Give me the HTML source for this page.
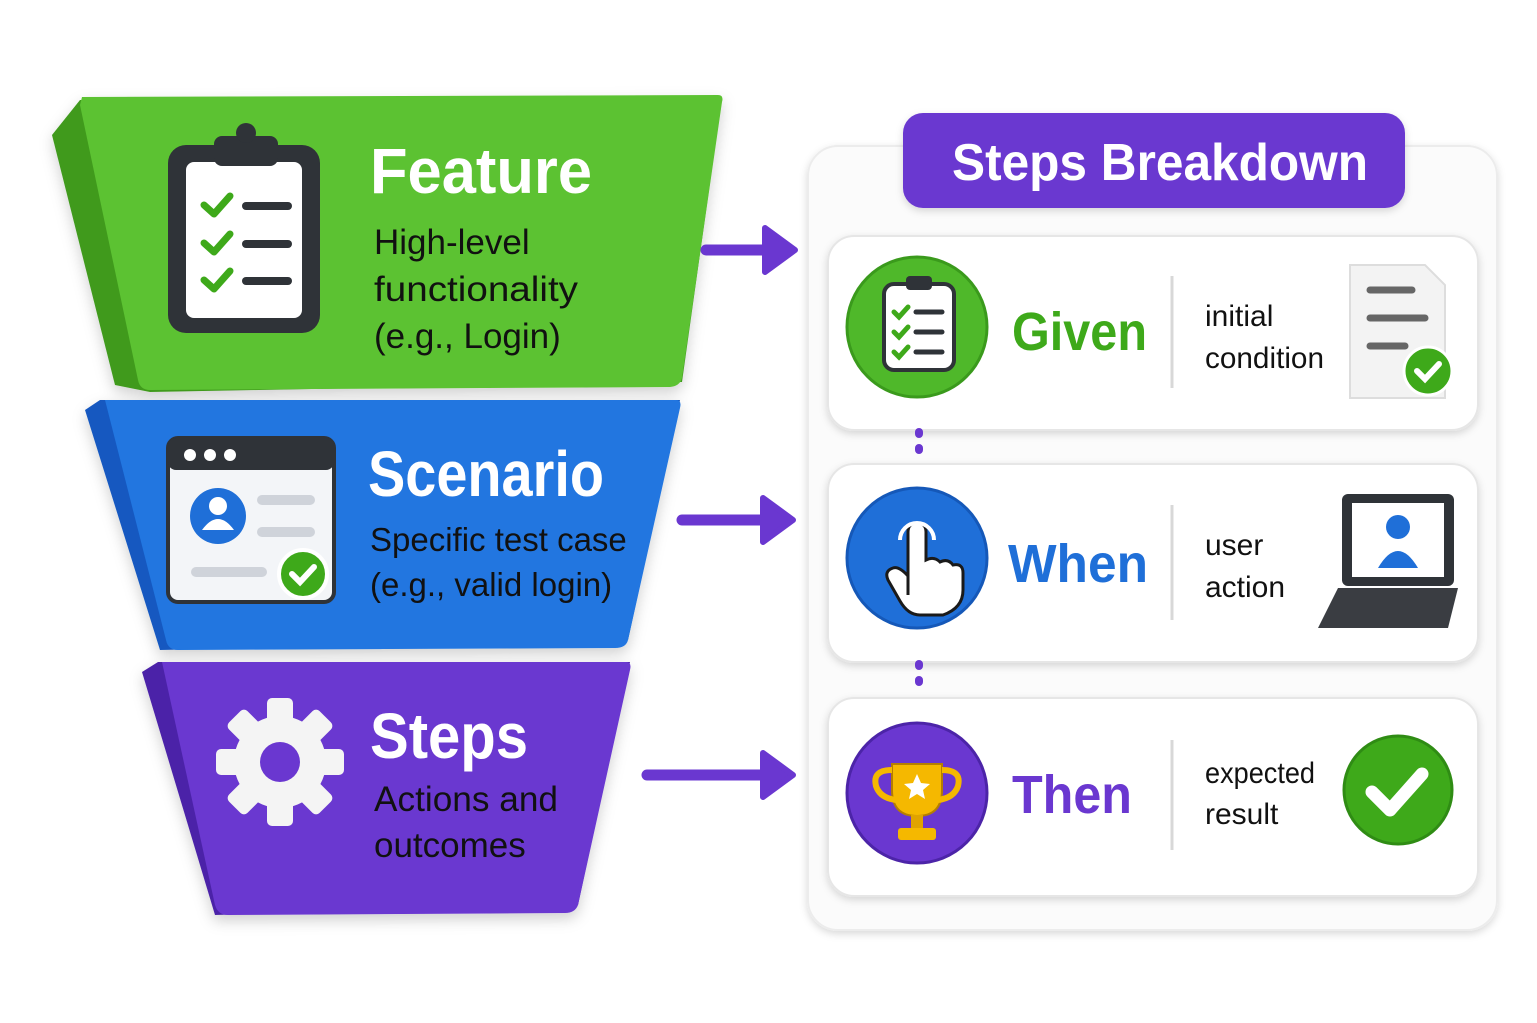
<!DOCTYPE html>
<html><head><meta charset="utf-8"><style>
html,body{margin:0;padding:0;background:#fff;}
svg{display:block}
text{font-family:"Liberation Sans",sans-serif;}
</style></head><body>
<svg width="1537" height="1023" viewBox="0 0 1537 1023" xmlns="http://www.w3.org/2000/svg">
<defs>
<filter id="sh" x="-10%" y="-10%" width="120%" height="130%"><feDropShadow dx="0" dy="6" stdDeviation="7" flood-color="#000" flood-opacity="0.18"/></filter>
<filter id="sh2" x="-10%" y="-10%" width="120%" height="130%"><feDropShadow dx="0" dy="3" stdDeviation="4" flood-color="#000" flood-opacity="0.15"/></filter>
</defs>

<!-- Left funnel -->
<g filter="url(#sh)">
<path d="M52,135 L80,100 L722,97 L682,382 L150,392 L115,385 Z" fill="#3f9a1e"/>
<path d="M82,97 L718,95 Q724,95 722,102 L682,378 Q680,386 670,387 L150,390 Q140,390 138,380 L80,105 Z" fill="#5cc232"/>
<path d="M85,410 L100,400 L680,400 L628,640 L160,650 Z" fill="#1559c0"/>
<path d="M105,400 L676,400 Q682,400 680,408 L628,640 Q626,648 615,648 L178,650 Q168,650 166,640 Z" fill="#2076e0"/>
<path d="M142,672 L158,662 L630,662 L578,905 L215,915 Z" fill="#4c24a8"/>
<path d="M162,662 L626,662 Q632,662 630,670 L578,905 Q575,913 565,913 L228,915 Q218,915 215,905 Z" fill="#6a37d0"/>
</g>

<!-- clipboard icon -->
<rect x="168" y="145" width="152" height="188" rx="18" fill="#2f3338"/>
<rect x="186" y="162" width="116" height="156" rx="8" fill="#fff"/>
<rect x="214" y="136" width="64" height="30" rx="8" fill="#2f3338"/>
<circle cx="246" cy="133" r="10" fill="#2f3338"/>
<g stroke="#3ea91a" stroke-width="7" fill="none" stroke-linecap="round" stroke-linejoin="round">
<path d="M204,205 l10,9 l16,-18"/><path d="M204,243 l10,9 l16,-18"/><path d="M204,280 l10,9 l16,-18"/></g>
<g stroke="#2f3338" stroke-width="8" stroke-linecap="round"><path d="M246,206 H288"/><path d="M246,244 H288"/><path d="M246,281 H288"/></g>
<text x="370" y="193" font-size="64" font-weight="bold" fill="#fff" textLength="222" lengthAdjust="spacingAndGlyphs">Feature</text>
<g font-size="35" fill="#111"><text x="374" y="254">High-level</text><text x="374" y="301" textLength="204" lengthAdjust="spacingAndGlyphs">functionality</text><text x="374" y="348">(e.g., Login)</text></g>

<!-- browser icon -->
<rect x="168" y="438" width="166" height="164" rx="10" fill="#f3f5f8" stroke="#2f3338" stroke-width="4"/>
<rect x="168" y="438" width="166" height="32" rx="8" fill="#2f3338"/>
<g fill="#fff"><circle cx="190" cy="455" r="6"/><circle cx="210" cy="455" r="6"/><circle cx="230" cy="455" r="6"/></g>
<circle cx="218" cy="516" r="28" fill="#1f6fd8"/><circle cx="218" cy="506" r="9" fill="#fff"/><path d="M202,530 q16,-22 32,0 z" fill="#fff"/>
<g stroke="#cfd3da" stroke-width="10" stroke-linecap="round"><path d="M262,500 H310"/><path d="M262,532 H310"/><path d="M196,572 H262"/></g>
<circle cx="303" cy="574" r="24" fill="#3ea91a" stroke="#fff" stroke-width="4"/><path d="M292,574 l8,8 l14,-15" stroke="#fff" stroke-width="6" fill="none" stroke-linecap="round"/>
<text x="368" y="496" font-size="64" font-weight="bold" fill="#fff" textLength="236" lengthAdjust="spacingAndGlyphs">Scenario</text>
<g font-size="33" fill="#111"><text x="370" y="551">Specific test case</text><text x="370" y="596">(e.g., valid login)</text></g>

<!-- gear -->
<g transform="translate(280,762)" fill="#f4f4f4">
<g id="tooth"><rect x="-13" y="-64" width="26" height="30" rx="5"/></g>
<use href="#tooth" transform="rotate(45)"/><use href="#tooth" transform="rotate(90)"/><use href="#tooth" transform="rotate(135)"/>
<use href="#tooth" transform="rotate(180)"/><use href="#tooth" transform="rotate(225)"/><use href="#tooth" transform="rotate(270)"/><use href="#tooth" transform="rotate(315)"/>
<circle r="46"/><circle r="20" fill="#6a37d0"/></g>
<text x="370" y="758" font-size="64" font-weight="bold" fill="#fff" textLength="158" lengthAdjust="spacingAndGlyphs">Steps</text>
<g font-size="35" fill="#111"><text x="374" y="811" textLength="184" lengthAdjust="spacingAndGlyphs">Actions and</text><text x="374" y="857">outcomes</text></g>

<!-- arrows -->
<g stroke="#6a37d0" stroke-width="11" stroke-linecap="round" fill="#6a37d0">
<path d="M706,250 H778"/><path d="M682,520 H776"/><path d="M647,775 H776"/></g>
<g fill="#6a37d0" stroke="#6a37d0" stroke-width="6" stroke-linejoin="round">
<path d="M765,228 L795,250 L765,272 Z"/><path d="M763,498 L793,520 L763,542 Z"/><path d="M763,753 L793,775 L763,797 Z"/></g>

<!-- right panel -->
<rect x="808" y="146" width="689" height="784" rx="30" fill="#fbfbfb" stroke="#ececec" stroke-width="2" filter="url(#sh2)"/>
<rect x="903" y="113" width="502" height="95" rx="20" fill="#6a37d0" filter="url(#sh2)"/>
<text x="952" y="180" font-size="52" font-weight="bold" fill="#fff" textLength="416" lengthAdjust="spacingAndGlyphs">Steps Breakdown</text>

<g filter="url(#sh2)">
<rect x="828" y="236" width="650" height="194" rx="26" fill="#fff" stroke="#e6e6e6" stroke-width="2"/>
<rect x="828" y="464" width="650" height="198" rx="26" fill="#fff" stroke="#e6e6e6" stroke-width="2"/>
<rect x="828" y="698" width="650" height="198" rx="26" fill="#fff" stroke="#e6e6e6" stroke-width="2"/>
</g>
<g stroke="#6a37d0" stroke-width="8" stroke-linecap="round" stroke-dasharray="2,14"><path d="M919,432 V462"/><path d="M919,664 V696"/></g>
<g stroke="#d8d8d8" stroke-width="3"><path d="M1172,276 V388"/><path d="M1172,505 V620"/><path d="M1172,740 V850"/></g>

<!-- Given -->
<circle cx="917" cy="327" r="70" fill="#4fb82a" stroke="#3a9a1c" stroke-width="3"/>
<rect x="884" y="284" width="70" height="86" rx="10" fill="#fff" stroke="#2f3338" stroke-width="4"/>
<rect x="906" y="276" width="26" height="14" rx="4" fill="#2f3338"/>
<g stroke="#3ea91a" stroke-width="5" fill="none" stroke-linecap="round"><path d="M894,312 l5,5 l9,-10"/><path d="M894,332 l5,5 l9,-10"/><path d="M894,352 l5,5 l9,-10"/></g>
<g stroke="#2f3338" stroke-width="5" stroke-linecap="round"><path d="M916,312 H942"/><path d="M916,332 H942"/><path d="M916,352 H942"/></g>
<text x="1012" y="350" font-size="54" font-weight="bold" fill="#3ea91a" textLength="135" lengthAdjust="spacingAndGlyphs">Given</text>
<g font-size="30" fill="#111"><text x="1205" y="326">initial</text><text x="1205" y="368" textLength="119" lengthAdjust="spacingAndGlyphs">condition</text></g>
<path d="M1350,265 H1425 L1445,285 V398 H1350 Z" fill="#f3f3f3" stroke="#ddd" stroke-width="2"/>
<g stroke="#666" stroke-width="7" stroke-linecap="round"><path d="M1370,290 H1412"/><path d="M1370,318 H1425"/><path d="M1370,346 H1405"/></g>
<circle cx="1428" cy="371" r="24" fill="#3ea91a" stroke="#fff" stroke-width="3"/><path d="M1417,371 l8,8 l14,-15" stroke="#fff" stroke-width="6" fill="none" stroke-linecap="round"/>

<!-- When -->
<circle cx="917" cy="558" r="70" fill="#1f6fd8" stroke="#1558b8" stroke-width="3"/>
<path d="M908,595 V532 q0,-9 9,-9 q9,0 9,9 V560 q8,-4 14,2 q8,-4 13,3 q10,-2 10,8 V590 q0,18 -20,25 H920 q-12,0 -20,-14 L888,580 q-4,-9 5,-12 q6,-2 15,8" fill="#fff" stroke="#1a1a1a" stroke-width="3"/>
<path d="M900,540 a17,17 0 1 1 34,0" stroke="#fff" stroke-width="4" fill="none"/>
<text x="1008" y="582" font-size="54" font-weight="bold" fill="#1f6fd8" textLength="140" lengthAdjust="spacingAndGlyphs">When</text>
<g font-size="30" fill="#111"><text x="1205" y="555">user</text><text x="1205" y="597">action</text></g>
<rect x="1342" y="494" width="112" height="92" rx="6" fill="#2f3338"/>
<rect x="1352" y="503" width="92" height="74" fill="#fff"/>
<circle cx="1398" cy="527" r="12" fill="#1f6fd8"/><path d="M1378,568 q20,-34 40,0 z" fill="#1f6fd8"/>
<path d="M1338,588 H1458 L1448,628 H1318 Z" fill="#3a3d42"/>

<!-- Then -->
<circle cx="917" cy="793" r="70" fill="#6a37d0" stroke="#4c24a8" stroke-width="3"/>
<path d="M892,764 H942 V790 q0,26 -25,26 q-25,0 -25,-26 Z" fill="#f5b800" stroke="#b57e00" stroke-width="2"/>
<path d="M892,770 q-20,0 -16,16 q4,12 20,14 M942,770 q20,0 16,16 q-4,12 -20,14" stroke="#f5b800" stroke-width="6" fill="none"/>
<rect x="911" y="815" width="12" height="14" fill="#e0a300"/><rect x="898" y="828" width="38" height="12" rx="3" fill="#f5b800"/>
<path d="M917,774 l4,9 l9,1 l-7,6 l2,9 l-8,-5 l-8,5 l2,-9 l-7,-6 l9,-1 z" fill="#fff"/>
<text x="1012" y="813" font-size="54" font-weight="bold" fill="#6a37d0" textLength="120" lengthAdjust="spacingAndGlyphs">Then</text>
<g font-size="30" fill="#111"><text x="1205" y="783" textLength="110" lengthAdjust="spacingAndGlyphs">expected</text><text x="1205" y="824">result</text></g>
<circle cx="1398" cy="790" r="54" fill="#3ea91a" stroke="#2f8c14" stroke-width="3"/>
<path d="M1372,792 l18,18 l32,-36" stroke="#fff" stroke-width="13" fill="none" stroke-linecap="round" stroke-linejoin="round"/>
</svg>
</body></html>
